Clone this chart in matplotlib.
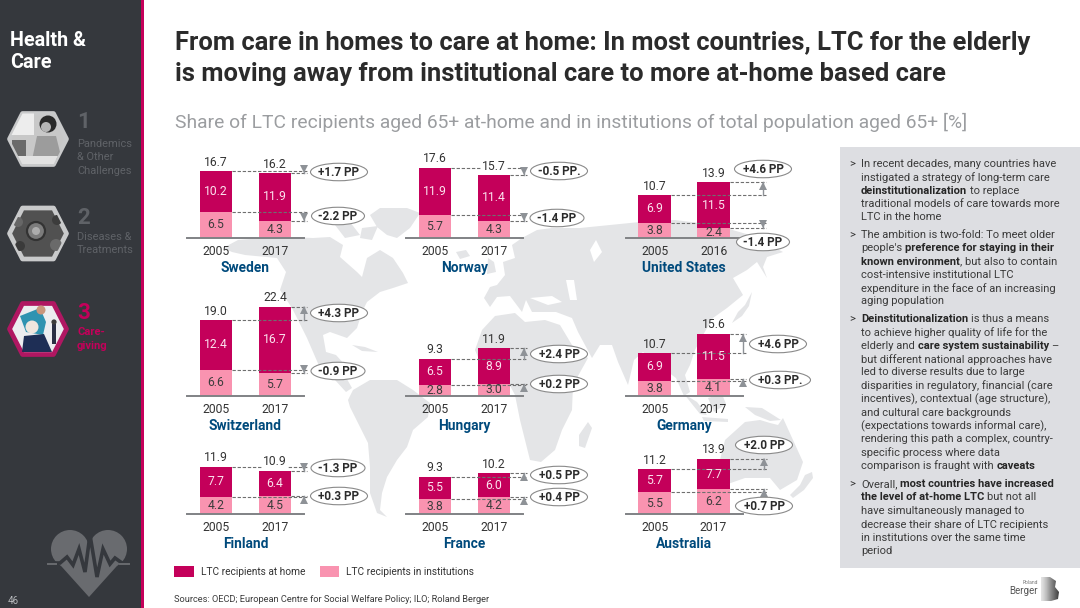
import numpy as np
import matplotlib
matplotlib.use("Agg")
import matplotlib.pyplot as plt
from matplotlib.patches import Polygon, Rectangle, Ellipse, Circle, Patch

plt.rcParams['font.family'] = ['Roboto', 'DejaVu Sans']

# ---------- data ----------
countries = ['Sweden', 'Norway', 'United States', 'Switzerland', 'Hungary', 'Germany', 'Finland', 'France', 'Australia']
start_years = ['2005'] * 9
end_years = ['2017', '2017', '2016', '2017', '2017', '2017', '2017', '2017', '2017']
home_start = [10.2, 11.9, 6.9, 12.4, 6.5, 6.9, 7.7, 5.5, 5.7]
home_end = [11.9, 11.4, 11.5, 16.7, 8.9, 11.5, 6.4, 6.0, 7.7]
inst_start = [6.5, 5.7, 3.8, 6.6, 2.8, 3.8, 4.2, 3.8, 5.5]
inst_end = [4.3, 4.3, 2.4, 5.7, 3.0, 4.1, 4.5, 4.2, 6.2]
home_change = ['+1.7 PP', '-0.5 PP.', '+4.6 PP', '+4.3 PP', '+2.4 PP', '+4.6 PP', '-1.3 PP', '+0.5 PP', '+2.0 PP']
inst_change = ['-2.2 PP', '-1.4 PP', '-1.4 PP', '-0.9 PP', '+0.2 PP', '+0.3 PP.', '+0.3 PP', '+0.4 PP', '+0.7 PP']
legend_labels = ['LTC recipients at home', 'LTC recipients in institutions']

title_lines = ['From care in homes to care at home: In most countries, LTC for the elderly',
               'is moving away from institutional care to more at-home based care']
subtitle = 'Share of LTC recipients aged 65+ at-home and in institutions of total population aged 65+ [%]'
source = 'Sources: OECD; European Centre for Social Welfare Policy; ILO; Roland Berger'

# ---------- layout (pixels) ----------
W, H = 1080, 608
PX_PER_UNIT = 3.98
panel_left = [187, 406, 625.6, 187, 406, 625.6, 187, 406, 625.6]
panel_base = [237.7, 237.7, 237.7, 395.8, 395.8, 395.8, 514, 514, 514]
arrow_px = [304, 523.5, 763, 304, 523.5, 742.6, 304, 523.5, 764]
home_bubble = [(339, 172, 57), (559, 171, 57), (763, 169, 57), (339, 313, 57), (559, 354, 57),
               (778, 344, 57), (338, 468, 54), (559, 475, 57), (764, 445, 57)]
inst_bubble = [(338, 216, 53), (557, 218, 54), (763, 242, 53), (338, 371, 54), (559, 384, 57),
               (780, 380, 61), (339, 496, 57), (559, 497, 57), (764, 506, 57)]
PANEL_W = 117.0
C0, C1 = 29.0, 88.0  # bar centres from panel left
UNIT_X = C1 - C0

C_HOME = '#C4005A'
C_INST = '#F993B0'
C_MAP = '#E4E5E7'
C_SIDE = '#35383D'
C_BLUE = '#004A7C'
C_ARROW = '#8E9297'

FS_NUM = 8.7
FS_PP = 8.4
FS_NAME = 9.9

fig = plt.figure(figsize=(W / 100, H / 100), dpi=100, facecolor='white')
bg = fig.add_axes([0, 0, 1, 1], zorder=0)
bg.set_xlim(0, W); bg.set_ylim(H, 0); bg.axis('off')
top = fig.add_axes([0, 0, 1, 1], zorder=5)
top.set_xlim(0, W); top.set_ylim(H, 0); top.axis('off'); top.patch.set_alpha(0)
renderer = fig.canvas.get_renderer()

# ---------- background map (decorative silhouette) ----------
land = [
 # North America
 [(223,248),(238,240),(263,238),(290,237),(313,238),(330,237),(343,245),(340,257),(357,272),(362,277),(367,258),(380,250),
  (393,258),(403,273),(408,283),(393,288),(380,292),(367,302),(362,312),(357,328),(347,338),(330,332),(323,335),(326,352),
  (336,355),(345,365),(343,372),(352,388),(346,392),(335,380),(320,368),(307,338),(292,308),(280,290),(286,272),(277,258),(245,255),(232,252)],
 # Arctic islands
 [(335,225),(350,222),(360,235),(345,238)], [(362,228),(378,226),(372,240),(360,238)],
 # Greenland
 [(370,215),(380,208),(407,208),(420,213),(410,228),(397,238),(387,235),(377,227)],
 # Cuba
 [(352,345),(365,347),(378,352),(362,351)],
 # South America
 [(353,390),(370,380),(397,380),(413,390),(430,403),(428,417),(413,430),(407,447),(397,460),(387,477),(382,493),(380,510),
  (387,517),(377,513),(370,493),(370,467),(368,443),(350,407),(348,400)],
 # Eurasia
 [(484,298),(490,287),(497,285),(505,275),(503,262),(515,258),(512,245),(522,238),(537,230),(552,228),(580,228),(610,225),
  (640,222),(675,220),(715,225),(750,235),(783,252),(767,257),(763,267),(767,278),(757,262),(747,270),(733,278),(743,295),
  (727,308),(713,318),(703,335),(695,350),(690,365),(685,375),(690,392),(684,396),(676,378),(668,372),(660,378),(652,360),
  (643,352),(634,360),(628,385),(618,362),(612,345),(600,345),(592,358),(578,332),(572,318),(556,312),(545,312),(532,312),
  (526,300),(522,312),(510,296),(497,297),(490,307)],
 # UK / Iceland
 [(488,258),(494,262),(496,272),(487,274)], [(456,252),(466,250),(470,256),(460,259)],
 # Africa
 [(495,316),(515,313),(525,322),(545,320),(560,325),(575,350),(588,358),(573,385),(572,410),(562,430),(555,450),(541,462),
  (530,460),(520,420),(515,395),(505,376),(485,374),(475,350),(482,330)],
 # Madagascar
 [(588,422),(592,428),(585,448),(579,446),(579,435)],
 # Japan
 [(752,292),(749,306),(742,316),(732,323),(738,312),(745,305)],
 # Indonesia / New Guinea / Philippines
 [(684,394),(697,402),(707,415),(700,414)], [(708,398),(722,394),(726,404),(714,412)], [(702,417),(728,419),(728,422),(704,421)],
 [(745,407),(762,408),(781,420),(770,421),(755,415)], [(720,372),(727,372),(729,388),(722,384)],
 # Australia
 [(725,440),(745,422),(760,420),(770,423),(778,425),(783,418),(793,440),(803,462),(797,480),(780,490),(770,478),(745,478),(725,485),(720,460)],
 # New Zealand
 [(790,495),(800,485),(805,475),(812,472),(813,478),(804,490),(793,498)],
]
for poly in land:
    bg.add_patch(Polygon(poly, closed=True, fc=C_MAP, ec='none', zorder=1))
for poly in [[(530,298),(552,296),(562,302),(548,305)], [(566,280),(574,280),(577,300),(570,300)],
             [(590,250),(596,240),(602,252),(594,262)]]:
    bg.add_patch(Polygon(poly, closed=True, fc='white', ec='none', zorder=1.5))

# ---------- sidebar ----------
bg.add_patch(Rectangle((0, 0), 141, H, fc=C_SIDE, ec='none', zorder=2))
bg.add_patch(Rectangle((141, 0), 3, H, fc=C_HOME, ec='none', zorder=2))
bg.text(10, 41, 'Health &', color='white', fontsize=14.2, fontweight='bold', va='center', zorder=3)
bg.text(10, 63, 'Care', color='white', fontsize=14.2, fontweight='bold', va='center', zorder=3)

def hexagon(cy, ring, inner):
    cx = 38
    pts = [(cx-28.5, cy), (cx-15.5, cy-25.5), (cx+15.5, cy-25.5), (cx+28.5, cy), (cx+15.5, cy+25.5), (cx-15.5, cy+25.5)]
    p = Polygon(pts, closed=True, fc=inner, ec=ring, lw=3.4, joinstyle='round', zorder=3)
    bg.add_patch(p)
    return p

def clipped(artist, clip):
    bg.add_patch(artist)
    artist.set_zorder(3.2)
    artist.set_clip_path(clip)

h1 = hexagon(139, '#C9CACB', '#C8C8C8')
clipped(Rectangle((10, 113), 24, 22, fc='#EDEDED', ec='none'), h1)
clipped(Circle((48, 124), 8.5, fc='#2A2A2A', ec='none'), h1)
clipped(Circle((46, 127), 5, fc='#B5B5B5', ec='none'), h1)
clipped(Polygon([(32, 160), (37, 136), (56, 136), (62, 160)], fc='#9C9C9C', ec='none'), h1)
clipped(Rectangle((12, 156), 52, 8, fc='#E2E2E2', ec='none'), h1)
clipped(Rectangle((12, 140), 14, 16, fc='#6A6A6A', ec='none'), h1)

h2 = hexagon(233.5, '#C9CACB', '#515151')
clipped(Circle((36, 231), 9, fc='#7C7C7C', ec='#333333', lw=1.6), h2)
clipped(Circle((36, 231), 4, fc='#ADADAD', ec='none'), h2)
clipped(Circle((18, 222), 5, fc='#666666', ec='none'), h2)
clipped(Circle((56, 245), 6, fc='#6A6A6A', ec='none'), h2)
clipped(Circle((57, 220), 5, fc='#3C3C3C', ec='none'), h2)
clipped(Circle((20, 246), 5, fc='#3A3A3A', ec='none'), h2)

h3 = hexagon(329, '#B01762', '#ECEDF0')
clipped(Polygon([(20, 316), (40, 308), (46, 322), (43, 335), (26, 332)], fc='#2F93B1', ec='none'), h3)
clipped(Circle((41, 310), 4.5, fc='#C9967C', ec='none'), h3)
clipped(Polygon([(22, 352), (24, 336), (44, 334), (52, 352)], fc='#1E2E55', ec='none'), h3)
clipped(Circle((32, 327), 6.5, fc='#EFE6DE', ec='none'), h3)
clipped(Rectangle((52, 324), 4, 20, fc='#2A2F44', ec='none'), h3)
clipped(Circle((54, 322), 2.6, fc='#3A3A3A', ec='none'), h3)

GREY_T = '#5F6267'
bg.text(77, 122, '1', color=GREY_T, fontsize=16, fontweight='bold', va='center', zorder=3)
for y, s in zip([144, 157, 171], ['Pandemics', '& Other', 'Challenges']):
    bg.text(77, y, s, color=GREY_T, fontsize=7.9, va='center', zorder=3)
bg.text(77, 218, '2', color=GREY_T, fontsize=16, fontweight='bold', va='center', zorder=3)
for y, s in zip([237, 250], ['Diseases &', 'Treatments']):
    bg.text(77, y, s, color=GREY_T, fontsize=7.9, va='center', zorder=3)
bg.text(77, 313, '3', color=C_HOME, fontsize=16, fontweight='bold', va='center', zorder=3)
for y, s in zip([332, 346], ['Care-', 'giving']):
    bg.text(77, y, s, color=C_HOME, fontsize=8, fontweight='bold', va='center', zorder=3)

# heart icon
HEART = '#696B6F'
bg.add_patch(Circle((70, 549), 19, fc=HEART, ec='none', zorder=3))
bg.add_patch(Circle((108, 549), 19, fc=HEART, ec='none', zorder=3))
bg.add_patch(Polygon([(53, 557), (89, 597), (125, 557), (108, 535), (89, 548), (70, 535)], fc=HEART, ec='none', zorder=3))
pulse = [(49, 563), (60, 563), (67, 557), (73, 565), (79, 549), (85, 572), (90, 535), (97, 577), (103, 549), (110, 564), (115, 558), (122, 563), (128, 563)]
px, py = zip(*pulse)
bg.plot(px, py, color=C_SIDE, lw=2.6, zorder=3.1, solid_joinstyle='miter')
bg.plot([48, 56], [563.5, 563.5], color=HEART, lw=1.4, zorder=3.2)
bg.plot([120, 129], [563.5, 563.5], color=HEART, lw=1.4, zorder=3.2)
bg.text(8, 600.5, '46', color='#B9BBBE', fontsize=7, va='center', zorder=3)

# ---------- titles ----------
for y, s in zip([43, 74], title_lines):
    bg.text(175, y, s, color='#2B2B2B', fontsize=18.4, fontweight='bold', va='center', zorder=3)
bg.text(175, 122, subtitle, color='#9B9DA0', fontsize=13.9, va='center', zorder=3)

# ---------- small multiples ----------
for i, name in enumerate(countries):
    L, base = panel_left[i], panel_base[i]
    height_px = 30 * PX_PER_UNIT
    ax = fig.add_axes([L / W, 1 - base / H, PANEL_W / W, height_px / H], zorder=2)
    ax.patch.set_alpha(0)
    ax.set_xlim(-C0 / UNIT_X, (PANEL_W - C0) / UNIT_X)
    ax.set_ylim(0, 30)
    inst = [inst_start[i], inst_end[i]]
    home = [home_start[i], home_end[i]]
    tot = [h + n for h, n in zip(home, inst)]
    bw = 32.5 / UNIT_X
    ax.bar([0, 1], inst, width=bw, color=C_INST, zorder=2)
    ax.bar([0, 1], home, width=bw, bottom=inst, color=C_HOME, zorder=2)
    label_off = 9 / PX_PER_UNIT
    for x in (0, 1):
        ax.text(x, inst[x] / 2, f'{inst[x]:.1f}', ha='center', va='center', color='#3C3C3C', fontsize=FS_NUM, zorder=4)
        ax.text(x, inst[x] + home[x] / 2, f'{home[x]:.1f}', ha='center', va='center', color='#FBE3EE', fontsize=FS_NUM, zorder=4)
        crossed = x == 1 and abs(tot[0] - (tot[1] + label_off)) < 1.4
        ax.text(x, tot[x] + label_off, f'{tot[x]:.1f}', ha='center', va='center', color='#333333', fontsize=FS_NUM, zorder=4,
                bbox=dict(fc='white', ec='none', pad=0.6) if crossed else None)
    # connectors and change arrows
    xa = (arrow_px[i] - L - C0) / UNIT_X
    xe = xa + 3 / UNIT_X
    tri = 3.8 / PX_PER_UNIT
    for a, b in ((tot[0], tot[1]), (inst[0], inst[1])):
        ax.plot([bw / 2, xe], [a, a], color='#6F6F6F', lw=0.8, ls=(0, (3, 1.6)), zorder=3, clip_on=False)
        ax.plot([1 + bw / 2, xe], [b, b], color='#6F6F6F', lw=0.8, ls=(0, (3, 1.6)), zorder=3, clip_on=False)
        up = b > a
        ax.plot([xa, xa], [a, b], color=C_ARROW, lw=1.0, zorder=3, clip_on=False)
        ax.plot([xa], [b - tri if up else b + tri], marker='^' if up else 'v', ms=5.5, color=C_ARROW, mew=0, zorder=3, clip_on=False)
    # axis
    for s in ('top', 'left', 'right'):
        ax.spines[s].set_visible(False)
    ax.spines['bottom'].set_color('#808285')
    ax.spines['bottom'].set_linewidth(1.4)
    ax.set_yticks([])
    ax.set_xticks([0, 1])
    ax.set_xticklabels([start_years[i], end_years[i]], fontsize=FS_NUM, color='#333333')
    ax.tick_params(axis='x', length=0, pad=5)
    ax.set_xlabel(name, fontsize=FS_NAME, fontweight='bold', color=C_BLUE, labelpad=2.4)
    # bubbles
    for (cx, cy, w), label in ((home_bubble[i], home_change[i]), (inst_bubble[i], inst_change[i])):
        top.add_patch(Ellipse((cx, cy), w, 17.5, fc='white', ec='#8A8A8A', lw=0.8, zorder=6))
        top.text(cx, cy + 0.3, label, ha='center', va='center', fontsize=FS_PP, fontweight='bold', color='#2B2B2B', zorder=7)

# ---------- legend ----------
handles = [Patch(fc=C_HOME, ec='none'), Patch(fc=C_INST, ec='none')]
fig.legend(handles, legend_labels, loc='center left', bbox_to_anchor=(165 / W, 1 - 571.5 / H), ncol=2, frameon=False,
           fontsize=7.3, handlelength=1.95, handleheight=1.3, handletextpad=0.7, columnspacing=1.4, labelcolor='#333333', borderpad=0.4)
bg.text(174, 600, source, color='#3C3C3C', fontsize=6.7, va='center', zorder=3)

# ---------- text box ----------
bg.add_patch(Rectangle((840, 147), 240, 421, fc='#DDDEE2', ec='none', zorder=2))
B = True; N = False
paragraphs = [
 [164, 13.25, [[('In recent decades, many countries have', N)], [('instigated a strategy of long-term care', N)],
  [('deinstitutionalization', B), ('to replace', N)], [('traditional models of care towards more', N)], [('LTC in the home', N)]]],
 [235, 13.3, [[('The ambition is two-fold: To meet older', N)], [("people's", N), ('preference for staying in their', B)],
  [('known environment', B), (', but also to contain', N)], [('cost-intensive institutional LTC', N)],
  [('expenditure in the face of an increasing', N)], [('aging population', N)]]],
 [319, 13.36, [[('Deinstitutionalization', B), ('is thus a means', N)], [('to achieve higher quality of life for the', N)],
  [('elderly and', N), ('care system sustainability', B), ('\u2013', N)], [('but different national approaches have', N)],
  [('led to diverse results due to large', N)], [('disparities in regulatory, financial (care', N)],
  [('incentives), contextual (age structure),', N)], [('and cultural care backgrounds', N)],
  [('(expectations towards informal care),', N)], [('rendering this path a complex, country-', N)],
  [('specific process where data', N)], [('comparison is fraught with', N), ('caveats', B)]]],
 [484, 13.4, [[('Overall,', N), ('most countries have increased', B)], [('the level of at-home LTC', B), ('but not all', N)],
  [('have simultaneously managed to', N)], [('decrease their share of LTC recipients', N)],
  [('in institutions over the same time', N)], [('period', N)]]],
]
FS = 8.05
sp = bg.text(0, 0, '- -', fontsize=FS); w3 = sp.get_window_extent(renderer).width
sp.set_text('--'); space = w3 - sp.get_window_extent(renderer).width; sp.remove()
for y0, dy, lines in paragraphs:
    bg.text(849, y0, '>', fontsize=FS, color='#333333', va='center', zorder=3)
    for k, segs in enumerate(lines):
        x = 861
        y = y0 + k * dy
        for text, bold in segs:
            if text.startswith(','):
                x -= space
            t = bg.text(x, y, text, fontsize=FS, color='#3A3A3A' if not bold else '#262626',
                        fontweight='bold' if bold else 'normal', va='center', zorder=3)
            x += t.get_window_extent(renderer).width + space

# ---------- logo ----------
bg.text(1038, 582, 'Roland', fontsize=3.6, color='#777777', ha='right', va='center', zorder=3)
bg.text(1038, 591, 'Berger', fontsize=7, color='#555555', ha='right', va='center', zorder=3)
clip = Polygon([(1041, 577), (1050, 577), (1056, 581), (1055, 587), (1059, 592), (1058, 599), (1051, 601), (1041, 601)], closed=True,
               fc='none', ec='none', transform=bg.transData)
bg.add_patch(clip)
grad = np.linspace(0, 1, 40).reshape(1, -1)
im = bg.imshow(grad, cmap='Greys', vmin=-0.3, vmax=1.3, extent=(1041, 1059, 601, 577), aspect='auto', zorder=3)
im.set_clip_path(clip)
bg.set_xlim(0, W); bg.set_ylim(H, 0)

fig.savefig('out.png', dpi=100, facecolor='white')
